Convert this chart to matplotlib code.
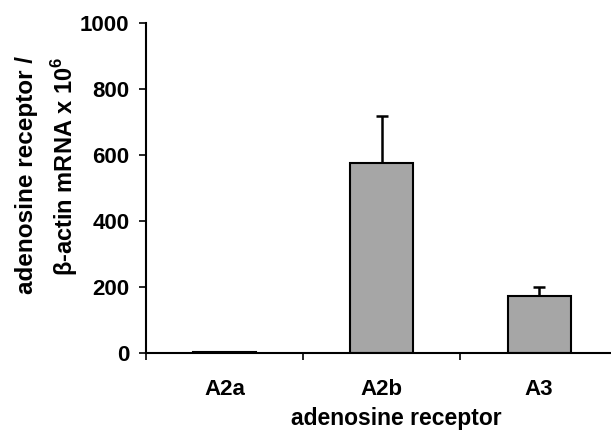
import numpy as np
import matplotlib.pyplot as plt
from matplotlib.ticker import FixedLocator

receptors = ['A2a', 'A2b', 'A3']
means = [4, 576, 173]
sem_up = [0, 143, 26]
y_ticks = [0, 200, 400, 600, 800, 1000]

plt.rcParams['font.family'] = ['Liberation Sans', 'DejaVu Sans']
plt.rcParams['font.weight'] = 'bold'
plt.rcParams['mathtext.fontset'] = 'custom'
plt.rcParams['mathtext.bf'] = 'Liberation Sans:bold'
plt.rcParams['mathtext.rm'] = 'Liberation Sans'

fig = plt.figure(figsize=(6.11, 4.32), dpi=100)
ax = fig.add_axes([0.239, 0.183, 0.772, 0.764])

x = np.arange(len(receptors))
ax.bar(x, means, width=0.4, color='#a6a6a6', edgecolor='black', linewidth=1.5, zorder=2)
ax.errorbar(x, means, yerr=[np.zeros(len(sem_up)), sem_up], fmt='none',
            ecolor='black', elinewidth=1.8, capsize=4.5, capthick=1.8, zorder=1)

ax.set_xlim(-0.5, 2.5)
ax.set_ylim(0, 1000)
ax.set_yticks(y_ticks)
ax.set_xticks(x)
ax.set_xticklabels(receptors, fontsize=16, fontweight='bold')
ax.xaxis.set_minor_locator(FixedLocator([-0.5, 0.5, 1.5]))
ax.tick_params(axis='x', which='major', length=0, pad=19)
ax.tick_params(axis='x', which='minor', length=5, width=1.2, direction='out')
ax.tick_params(axis='y', length=5, width=1.2, pad=7, labelsize=16)
for lab in ax.get_yticklabels():
    lab.set_fontweight('bold')

for s in ['top', 'right']:
    ax.spines[s].set_visible(False)
ax.spines['left'].set_linewidth(1.5)
ax.spines['bottom'].set_linewidth(1.5)

# x label sits at the very bottom, keep the descenders inside the figure
fig.text(0.648, 0.016, 'adenosine receptor', fontsize=16.5, fontweight='bold',
         ha='center', va='baseline')
fig.text(0.043, 0.595, 'adenosine receptor /', fontsize=17.5, fontweight='bold',
         rotation=90, ha='center', va='center')
fig.text(0.106, 0.615, r'β-actin mRNA x 10$^{\mathbf{6}}$', fontsize=17,
         fontweight='bold', rotation=90, ha='center', va='center')

plt.savefig('out.png', dpi=100)
